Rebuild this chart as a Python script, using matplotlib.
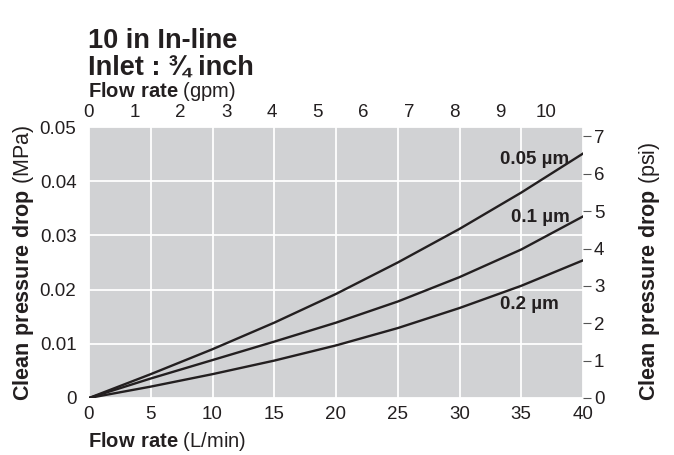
import matplotlib
matplotlib.use("Agg")
import matplotlib.pyplot as plt

# flow rate (L/min) and clean pressure drop (MPa)
flow_lpm = [0, 5, 10, 15, 20, 25, 30, 35, 40]
drop_005 = [0, 0.0044, 0.0090, 0.0139, 0.0192, 0.0250, 0.0312, 0.0379, 0.0451]
drop_01 = [0, 0.0036, 0.0070, 0.0104, 0.0139, 0.0178, 0.0223, 0.0274, 0.0335]
drop_02 = [0, 0.0021, 0.0044, 0.0069, 0.0097, 0.0129, 0.0166, 0.0207, 0.0254]

series_labels = ["0.05 µm", "0.1 µm", "0.2 µm"]
bottom_ticks = [0, 5, 10, 15, 20, 25, 30, 35, 40]
left_ticks = [0, 0.01, 0.02, 0.03, 0.04, 0.05]
left_tick_labels = ["0", "0.01", "0.02", "0.03", "0.04", "0.05"]
gpm_ticks = [0, 1, 2, 3, 4, 5, 6, 7, 8, 9, 10]
psi_ticks = [0, 1, 2, 3, 4, 5, 6, 7]

# the printed gpm scale sits a little tighter than 3.785 L/gal
LPM_PER_GPM = 3.7
PSI_PER_MPA = 145.038

plt.rcParams["font.family"] = ["Liberation Sans", "DejaVu Sans"]
plt.rcParams["mathtext.fontset"] = "custom"
plt.rcParams["mathtext.rm"] = "Liberation Sans"
plt.rcParams["mathtext.bf"] = "Liberation Sans:bold"

W, H = 674, 455
fig = plt.figure(figsize=(W / 100, H / 100), dpi=100)
ax = fig.add_axes([89 / W, 1 - 398 / H, (583 - 89) / W, (398 - 127) / H])

ink = "#231f20"
tick_font = {"family": ["Liberation Sans", "DejaVu Sans"], "size": 13.5}

ax.set_facecolor("#d1d2d4")
for s in ax.spines.values():
    s.set_visible(False)

for y in (drop_005, drop_01, drop_02):
    ax.plot(flow_lpm, y, color=ink, lw=1.7, solid_joinstyle="round", zorder=3)

ax.set_xlim(0, 40)
ax.set_ylim(0, 0.05)
ax.set_xticks(bottom_ticks)
ax.set_xticklabels([str(t) for t in bottom_ticks], fontdict=tick_font, color=ink)
ax.set_yticks(left_ticks)
ax.set_yticklabels(left_tick_labels, fontdict=tick_font, color=ink)
ax.tick_params(axis="x", length=0, pad=6)
ax.tick_params(axis="y", length=0, pad=9)
ax.grid(color="white", lw=1.3)
ax.set_axisbelow(True)

# top axis: gpm
ax_top = ax.secondary_xaxis("top", functions=(lambda x: x / LPM_PER_GPM, lambda g: g * LPM_PER_GPM))
ax_top.set_xticks(gpm_ticks)
ax_top.set_xticklabels([str(t) for t in gpm_ticks], fontdict=tick_font, color=ink)
ax_top.tick_params(length=0, pad=4)
ax_top.spines["top"].set_visible(False)

# right axis: psi
ax_r = ax.secondary_yaxis("right", functions=(lambda m: m * PSI_PER_MPA, lambda p: p / PSI_PER_MPA))
ax_r.set_yticks(psi_ticks)
ax_r.set_yticklabels([str(t) for t in psi_ticks], fontdict=tick_font, color=ink)
ax_r.tick_params(length=6, width=0.8, color="#555555", pad=2)
ax_r.spines["right"].set_visible(False)

# curve labels
lab_kw = {"fontsize": 13.5, "color": ink, "fontweight": "bold"}
ax.text(38.9, 0.0440, series_labels[0], ha="right", va="center", **lab_kw)
ax.text(38.9, 0.0333, series_labels[1], ha="right", va="center", **lab_kw)
ax.text(33.3, 0.0172, series_labels[2], ha="left", va="center", **lab_kw)

# axis titles
fig.text(88 / W, 1 - 447 / H, r"$\bf{Flow\ rate}$ (L/min)", fontsize=14.5, color=ink, ha="left", va="baseline")
fig.text(88 / W, 1 - 97 / H, r"$\bf{Flow\ rate}$ (gpm)", fontsize=14.5, color=ink, ha="left", va="baseline")
fig.text(24 / W, 1 - 401 / H, r"$\bf{Clean\ pressure\ drop}$ (MPa)", fontsize=15.5, color=ink,
         rotation=90, ha="center", va="bottom")
fig.text(650 / W, 1 - 401 / H, r"$\bf{Clean\ pressure\ drop}$ (psi)", fontsize=15.5, color=ink,
         rotation=90, ha="center", va="bottom")

# chart heading
fig.text(88 / W, 1 - 48 / H, "10 in In-line", fontsize=19.5, fontweight="bold", color=ink, va="baseline")
fig.text(88 / W, 1 - 75 / H, "Inlet : ¾ inch", fontsize=19.5, fontweight="bold", color=ink, va="baseline")

fig.savefig("out.png", dpi=100)
